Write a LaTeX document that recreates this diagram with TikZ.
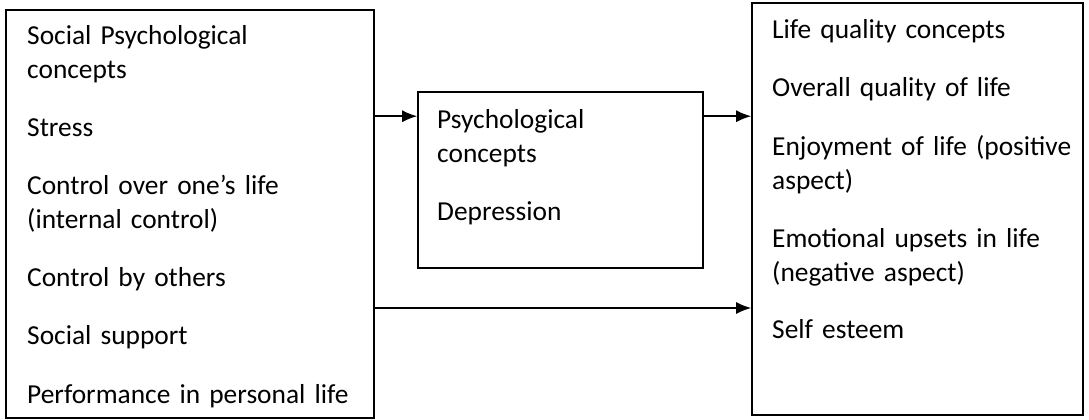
\documentclass[tikz,border=0pt]{standalone}
\usepackage{fontspec}
\setmainfont{Carlito}
\usetikzlibrary{arrows.meta}
\begin{document}
\begin{tikzpicture}[x=1pt,y=1pt,
        conceptbox/.style={draw,line width=1.6pt,inner sep=0pt},
        conceptlist/.style={anchor=base west,inner sep=0pt,align=left,text width=#1,font=\fontsize{27.4}{34}\selectfont},
        flow/.style={-{Latex[length=15pt,width=12pt]},line width=1.6pt}]
        \useasboundingbox (0,0) rectangle (1089,-420);
        \node [conceptbox,minimum width=368,minimum height=408] (social) at (190,-214) {};
        \node [conceptbox,minimum width=285,minimum height=176] (psych) at (560.5,-180) {};
        \node [conceptbox,minimum width=331,minimum height=412] (life) at (917.5,-209) {};
        \node [conceptlist=345] (socialtext) at (27,-45) {Social Psychological\\concepts\\[24pt]Stress\\[24pt]Control over one’s life\\(internal control)\\[24pt]Control by others\\[24pt]Social support\\[24pt]Performance in personal life};
        \node [conceptlist=260] (psychtext) at (437,-128) {Psychological\\concepts\\[24pt]Depression};
        \node [conceptlist=305] (lifetext) at (772,-39) {Life quality concepts\\[24pt]Overall quality of life\\[24pt]Enjoyment of life (positive\\aspect)\\[24pt]Emotional upsets in life\\(negative aspect)\\[24pt]Self esteem};
        \coordinate (psychin) at ([yshift=-25pt]psych.north west);
        \coordinate (psychout) at ([yshift=-25pt]psych.north east);
        \coordinate (direct) at (0,-308);
        \draw [flow] (social.east |- psychin) -- (psychin);
        \draw [flow] (psychout) -- (life.west |- psychout);
        \draw [flow] (social.east |- direct) -- (life.west |- direct);
    \end{tikzpicture}
\end{document}
